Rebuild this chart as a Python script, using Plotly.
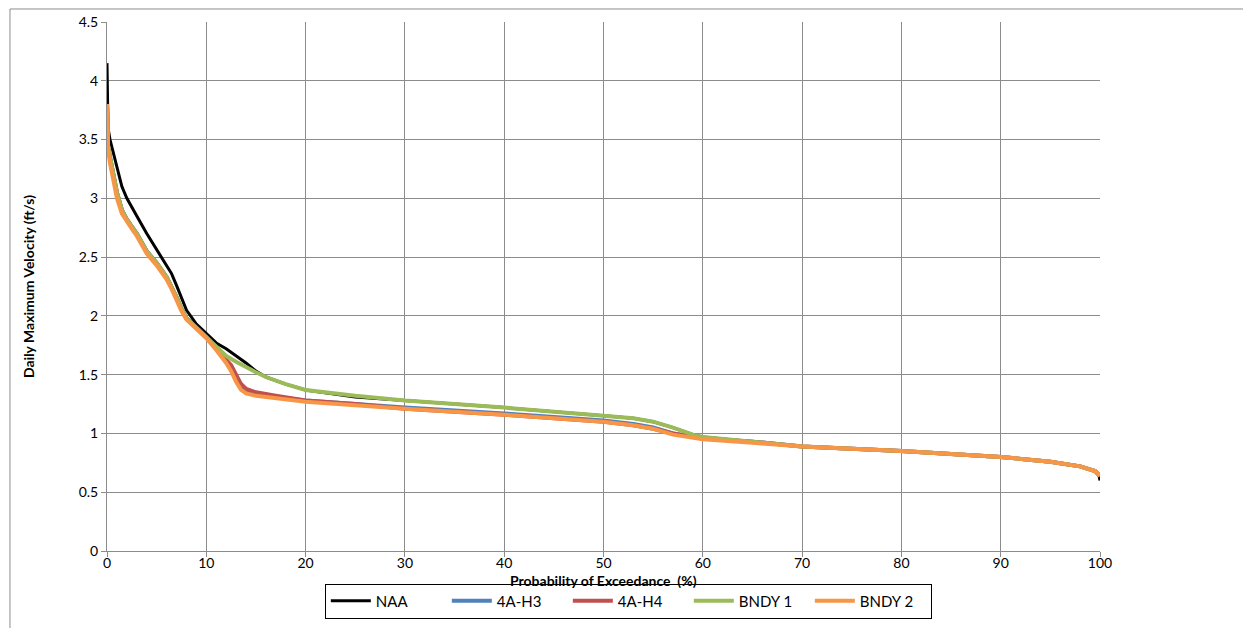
import plotly.graph_objects as go

# Probability of exceedance (%) and daily maximum velocity (ft/s)
naa_x = [0, 0.1, 0.3, 0.6, 1, 1.5, 2, 2.5, 3, 4, 5, 6, 6.5, 7, 7.5, 8, 9, 10, 11, 12, 13, 14, 15, 16, 18, 20, 25, 30, 40, 50, 53, 55, 57, 59, 60, 65, 70, 80, 90, 95, 98, 99.5, 99.9, 100]
naa_y = [4.15, 3.6, 3.5, 3.4, 3.25, 3.1, 3.0, 2.92, 2.85, 2.7, 2.56, 2.43, 2.36, 2.26, 2.15, 2.05, 1.93, 1.85, 1.77, 1.72, 1.66, 1.6, 1.53, 1.48, 1.42, 1.37, 1.31, 1.28, 1.22, 1.15, 1.13, 1.1, 1.05, 0.99, 0.97, 0.93, 0.89, 0.85, 0.8, 0.76, 0.72, 0.68, 0.64, 0.6]

h3_x = [0, 0.1, 0.3, 0.6, 1, 1.5, 2, 2.5, 3, 4, 5, 6, 6.5, 7, 7.5, 8, 9, 10, 11, 12, 12.5, 13, 13.5, 14, 15, 17, 20, 25, 30, 40, 50, 53, 55, 57, 59, 60, 65, 70, 80, 90, 95, 98, 99.5, 100]
h3_y = [3.8, 3.45, 3.35, 3.2, 3.05, 2.9, 2.82, 2.76, 2.7, 2.55, 2.45, 2.33, 2.25, 2.16, 2.06, 1.98, 1.9, 1.82, 1.72, 1.62, 1.56, 1.47, 1.39, 1.36, 1.34, 1.31, 1.28, 1.25, 1.22, 1.17, 1.11, 1.08, 1.05, 1.0, 0.97, 0.96, 0.93, 0.89, 0.85, 0.8, 0.76, 0.72, 0.68, 0.64]

h4_x = h3_x
h4_y = [3.8, 3.45, 3.35, 3.2, 3.05, 2.9, 2.82, 2.76, 2.7, 2.55, 2.45, 2.33, 2.25, 2.16, 2.06, 1.98, 1.9, 1.82, 1.72, 1.63, 1.58, 1.5, 1.42, 1.38, 1.35, 1.32, 1.28, 1.25, 1.21, 1.16, 1.1, 1.07, 1.04, 1.0, 0.97, 0.96, 0.93, 0.89, 0.85, 0.8, 0.76, 0.72, 0.68, 0.64]

b1_x = [0, 0.1, 0.3, 0.6, 1, 1.5, 2, 2.5, 3, 4, 5, 6, 6.5, 7, 7.5, 8, 9, 10, 11, 12, 13, 14, 15, 16, 18, 20, 25, 30, 40, 50, 53, 55, 57, 59, 60, 65, 70, 80, 90, 95, 98, 99.5, 100]
b1_y = [3.8, 3.45, 3.35, 3.2, 3.05, 2.9, 2.82, 2.76, 2.7, 2.55, 2.45, 2.33, 2.25, 2.16, 2.06, 1.98, 1.9, 1.82, 1.73, 1.66, 1.61, 1.56, 1.52, 1.48, 1.42, 1.37, 1.32, 1.28, 1.22, 1.15, 1.13, 1.1, 1.05, 0.99, 0.97, 0.93, 0.89, 0.85, 0.8, 0.76, 0.72, 0.68, 0.64]

b2_x = h3_x
b2_y = [3.8, 3.42, 3.3, 3.15, 3.0, 2.87, 2.8, 2.74, 2.68, 2.53, 2.43, 2.31, 2.23, 2.14, 2.04, 1.97, 1.89, 1.81, 1.71, 1.6, 1.53, 1.44, 1.37, 1.34, 1.32, 1.3, 1.27, 1.24, 1.21, 1.16, 1.1, 1.07, 1.04, 0.99, 0.96, 0.95, 0.92, 0.89, 0.85, 0.8, 0.76, 0.72, 0.68, 0.64]

series = [
    ("NAA", naa_x, naa_y, "#000000", 3),
    ("4A-H3", h3_x, h3_y, "#4F81BD", 4),
    ("4A-H4", h4_x, h4_y, "#C0504D", 4),
    ("BNDY 1", b1_x, b1_y, "#9BBB59", 4),
    ("BNDY 2", b2_x, b2_y, "#F79646", 4),
]

x_ticks = list(range(0, 101, 10))
y_ticks = [0, 0.5, 1, 1.5, 2, 2.5, 3, 3.5, 4, 4.5]

fig = go.Figure()
for name, xs, ys, color, w in series:
    fig.add_trace(go.Scatter(x=xs, y=ys, mode="lines", name=name,
                             line=dict(color=color, width=w)))

FONT = "Lato, 'Liberation Sans', Arial, sans-serif"
grid = "#8c8c8c"
PH = 529.0  # plot height in px

fig.update_layout(
    width=1251, height=628,
    paper_bgcolor="white", plot_bgcolor="white",
    margin=dict(l=99, r=159, t=14, b=85, autoexpand=False),
    font=dict(family=FONT, size=14, color="#000000"),
    showlegend=True,
    legend=dict(orientation="h", x=0.525, xanchor="center", y=-50 / PH, yanchor="middle",
                bordercolor="#000000", borderwidth=1, bgcolor="white",
                font=dict(family=FONT, size=15), itemwidth=40,
                entrywidth=66, entrywidthmode="pixels",
                tracegroupgap=0),
    xaxis=dict(range=[0, 100], tickvals=x_ticks, ticktext=[str(v) for v in x_ticks],
               showgrid=True, gridcolor=grid, gridwidth=1,
               showline=True, linecolor=grid, linewidth=1,
               ticks="outside", ticklen=5, tickcolor=grid,
               zeroline=False, tickfont=dict(size=14), ticklabelstandoff=-6),
    yaxis=dict(range=[0, 4.5], tickvals=y_ticks, ticktext=[str(v) for v in y_ticks],
               showgrid=True, gridcolor=grid, gridwidth=1,
               showline=True, linecolor=grid, linewidth=1,
               ticks="outside", ticklen=5, tickcolor=grid,
               zeroline=False, tickfont=dict(size=14),
               title=dict(text="<b>Daily Maximum Velocity (ft/s)</b>", font=dict(size=14), standoff=40)),
    annotations=[dict(text="<b>Probability of Exceedance  (%)</b>", xref="paper", yref="paper",
                      x=0.5, y=-29 / PH, xanchor="center", yanchor="middle", showarrow=False,
                      font=dict(family=FONT, size=14))],
)

fig.add_shape(type="rect", xref="paper", yref="paper",
              x0=-0.0977, x1=1.149, y0=-0.19, y1=1.0246,
              line=dict(color="#8c8c8c", width=1), layer="below")

fig.write_html("out.html")
